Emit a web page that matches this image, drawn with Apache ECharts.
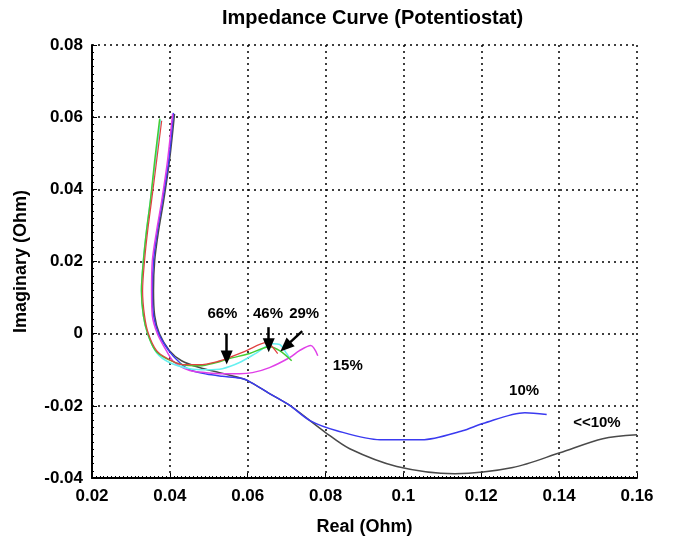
<!DOCTYPE html>
<html>
<head>
<meta charset="utf-8">
<script src="https://cdn.jsdelivr.net/npm/echarts@6/dist/echarts.min.js"></script>
<style>
html,body{margin:0;padding:0;background:#fff;}
#chart{width:675px;height:547px;}
</style>
</head>
<body>
<div id="chart"></div>
<script>
// Data (Real, Imaginary) in Ohm
const black_lt10 = [[0.0412,0.0609],[0.0399,0.0479],[0.0384,0.0368],[0.0371,0.0285],[0.0361,0.0202],[0.0358,0.0119],[0.0361,0.0050],[0.0373,0.0],[0.0399,-0.0047],[0.0430,-0.0075],[0.0476,-0.0094],[0.0528,-0.0108],[0.0579,-0.0122],[0.0600,-0.0130],[0.0656,-0.0166],[0.0708,-0.0199],[0.0800,-0.0274],[0.0862,-0.0319],[0.0983,-0.0368],[0.1132,-0.0388],[0.1281,-0.0371],[0.1402,-0.0330],[0.1512,-0.0291],[0.1600,-0.0280]];
const blue_10 = [[0.0409,0.0612],[0.0397,0.0479],[0.0381,0.0368],[0.0368,0.0285],[0.0358,0.0202],[0.0355,0.0119],[0.0358,0.0050],[0.0371,0.0],[0.0397,-0.0047],[0.0425,-0.0080],[0.0451,-0.0100],[0.0494,-0.0112],[0.0535,-0.0118],[0.0579,-0.0123],[0.0600,-0.0130],[0.0656,-0.0166],[0.0708,-0.0199],[0.0760,-0.0241],[0.0829,-0.0269],[0.0940,-0.0294],[0.1047,-0.0294],[0.1152,-0.0269],[0.1204,-0.0249],[0.1312,-0.0219],[0.1368,-0.0224]];
const magenta_15 = [[0.0407,0.0609],[0.0394,0.0479],[0.0379,0.0368],[0.0366,0.0285],[0.0355,0.0202],[0.0353,0.0119],[0.0355,0.0050],[0.0368,0.0],[0.0391,-0.0047],[0.0412,-0.0080],[0.0451,-0.0102],[0.0494,-0.0108],[0.0535,-0.0111],[0.0579,-0.0111],[0.0612,-0.0108],[0.0656,-0.0094],[0.0708,-0.0066],[0.0733,-0.0047],[0.0762,-0.0033],[0.0780,-0.0061]];
const cyan_29 = [[0.0376,0.0593],[0.0363,0.0479],[0.0350,0.0368],[0.0340,0.0285],[0.0332,0.0202],[0.0327,0.0119],[0.0332,0.0050],[0.0343,0.0],[0.0366,-0.0053],[0.0399,-0.0080],[0.0451,-0.0097],[0.0494,-0.0100],[0.0535,-0.0097],[0.0579,-0.0080],[0.0623,-0.0053],[0.0664,-0.0028],[0.0682,-0.0030],[0.0700,-0.0055],[0.0708,-0.0069]];
const green_66 = [[0.0374,0.0596],[0.0361,0.0479],[0.0350,0.0368],[0.0340,0.0285],[0.0332,0.0202],[0.0327,0.0119],[0.0332,0.0050],[0.0343,0.0],[0.0363,-0.0047],[0.0391,-0.0069],[0.0433,-0.0086],[0.0476,-0.0089],[0.0520,-0.0080],[0.0553,-0.0069],[0.0605,-0.0055],[0.0656,-0.0036],[0.0682,-0.0047],[0.0713,-0.0075]];
const red_46 = [[0.0379,0.0590],[0.0366,0.0479],[0.0353,0.0368],[0.0343,0.0285],[0.0335,0.0202],[0.0330,0.0119],[0.0335,0.0050],[0.0345,0.0],[0.0366,-0.0047],[0.0394,-0.0069],[0.0433,-0.0086],[0.0476,-0.0086],[0.0520,-0.0078],[0.0553,-0.0066],[0.0597,-0.0047],[0.0648,-0.0025],[0.0656,-0.0028],[0.0677,-0.0055]];

const xTicks = {min:0.02, max:0.16, interval:0.02};
const yTicks = {min:-0.04, max:0.08, interval:0.02};

const labelNames = ['66%','46%','29%','15%','10%','<<10%'];
const labelX = [0.0535,0.0652,0.0745,0.0857,0.1310,0.1497];
const labelY = [0.0055,0.0055,0.0055,-0.0089,-0.0158,-0.0247];

// arrows: [x1,y1,x2,y2]
const arrows = [[0.0546,0.0000,0.0546,-0.0066],[0.0654,0.0018,0.0654,-0.0032],[0.0740,0.0007,0.0697,-0.0036]];

const lineSeries = (name, data, color, w) => ({
  name, type:'line', data, showSymbol:false, symbol:'none', smooth:0.3,
  lineStyle:{color, width:w}, itemStyle:{color}, silent:true, z:2
});

const chart = echarts.init(document.getElementById('chart'), null, {renderer:'canvas'});
const fontFam = '"Liberation Sans", Arial, sans-serif';
chart.setOption({
  animation:false,
  backgroundColor:'#fff',
  title:{text:'Impedance Curve (Potentiostat)', left:217, top:3,
    textStyle:{fontFamily:fontFam, fontSize:20, fontWeight:'bold', color:'#000'}},
  grid:{left:92, right:38, top:45, bottom:69},
  xAxis:{type:'value', min:xTicks.min, max:xTicks.max, interval:xTicks.interval,
    name:'Real (Ohm)', nameLocation:'middle', nameGap:40,
    nameTextStyle:{fontFamily:fontFam, fontSize:18, fontWeight:'bold', color:'#000'},
    axisLine:{show:true, onZero:false, lineStyle:{color:'#000', width:2}},
    axisTick:{show:true, inside:true, length:5, lineStyle:{color:'#000'}},
    minorTick:{show:true, splitNumber:20, length:2, lineStyle:{color:'#000'}},
    axisLabel:{fontFamily:fontFam, fontSize:17, fontWeight:'bold', color:'#000', margin:10},
    splitLine:{show:true, lineStyle:{color:'#000', type:[2,4], width:1.5}}
  },
  yAxis:{type:'value', min:yTicks.min, max:yTicks.max, interval:yTicks.interval,
    name:'Imaginary (Ohm)', nameLocation:'middle', nameGap:62, nameRotate:90,
    nameTextStyle:{fontFamily:fontFam, fontSize:18, fontWeight:'bold', color:'#000'},
    axisLine:{show:true, onZero:false, lineStyle:{color:'#000', width:2}},
    axisTick:{show:true, inside:true, length:5, lineStyle:{color:'#000'}},
    minorTick:{show:true, splitNumber:10, length:2, lineStyle:{color:'#000'}},
    axisLabel:{fontFamily:fontFam, fontSize:17, fontWeight:'bold', color:'#000', margin:9},
    splitLine:{show:true, lineStyle:{color:'#000', type:[2,4], width:1.5}}
  },
  series:[
    lineSeries('<<10%', black_lt10, '#4a4a4a', 1.5),
    lineSeries('10%', blue_10, '#3a3af0', 1.5),
    lineSeries('15%', magenta_15, '#e040e8', 1.5),
    lineSeries('29%', cyan_29, '#66f0f0', 1.5),
    lineSeries('66%', green_66, '#44cc33', 1.5),
    lineSeries('46%', red_46, '#e04040', 1.2),
    {
      type:'scatter', symbolSize:0, silent:true, z:5,
      itemStyle:{color:'#000', opacity:1},
      data: labelNames.map((n,i)=>({name:n, value:[labelX[i], labelY[i]]})),
      label:{show:true, position:[0,0], align:'center', verticalAlign:'middle', formatter:'{b}',
        fontFamily:fontFam, fontSize:15, fontWeight:'bold', color:'#000',
        textBorderWidth:0, opacity:1},
      markLine:{
        silent:true, symbol:['none','triangle'], symbolSize:[12,14],
        label:{show:false},
        lineStyle:{color:'#000', width:2.5, type:'solid', opacity:1},
        data: arrows.map(a=>[{coord:[a[0],a[1]]},{coord:[a[2],a[3]]}])
      }
    }
  ]
});
</script>
</body>
</html>
